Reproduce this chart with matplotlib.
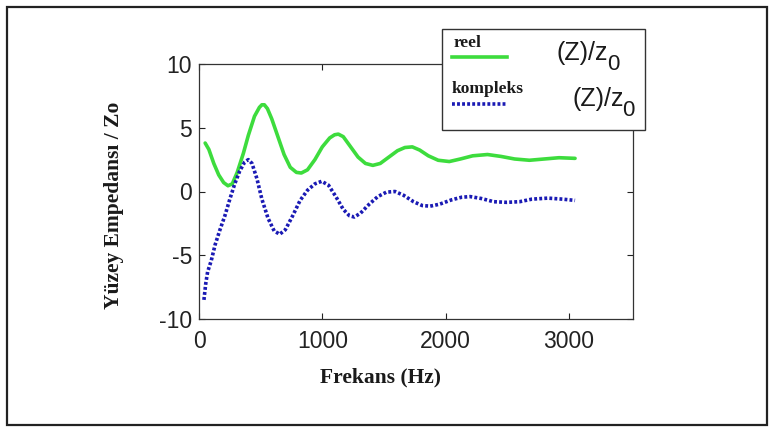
import matplotlib
matplotlib.use("Agg")
import matplotlib.pyplot as plt
from matplotlib.patches import Rectangle
from matplotlib.lines import Line2D

plt.rcParams["axes.unicode_minus"] = False

# ---- data ----
freq_reel = [50, 80, 120, 160, 200, 235, 270, 310, 360, 400, 450, 490, 510, 530, 555, 590,
             640, 690, 740, 790, 830, 880, 940, 1000, 1060, 1100, 1130, 1170, 1230, 1290,
             1350, 1410, 1470, 1540, 1610, 1670, 1730, 1790, 1860, 1940, 2030, 2120,
             2220, 2340, 2450, 2560, 2680, 2800, 2920, 3050]
reel = [3.8, 3.3, 2.2, 1.3, 0.7, 0.45, 0.6, 1.5, 3.0, 4.4, 5.9, 6.6, 6.8, 6.8, 6.5, 5.7,
        4.3, 2.9, 1.9, 1.5, 1.45, 1.7, 2.5, 3.5, 4.2, 4.45, 4.5, 4.3, 3.5, 2.7,
        2.2, 2.05, 2.2, 2.7, 3.2, 3.45, 3.5, 3.25, 2.8, 2.45, 2.35, 2.55,
        2.8, 2.9, 2.75, 2.55, 2.45, 2.55, 2.65, 2.6]

freq_komp = [40, 55, 70, 100, 130, 170, 210, 250, 290, 330, 370, 400, 430, 470, 510,
             560, 610, 655, 700, 760, 820, 880, 940, 995, 1050, 1110, 1170, 1220,
             1260, 1310, 1380, 1450, 1520, 1590, 1660, 1740, 1810, 1875, 1950, 2050,
             2130, 2200, 2290, 2390, 2495, 2600, 2700, 2830, 2950, 3050]
kompleks = [-8.5, -7.2, -6.3, -5.4, -4.2, -3.0, -1.9, -0.6, 0.6, 1.6, 2.3, 2.5, 2.2, 1.0, -0.6,
            -2.1, -3.1, -3.35, -3.0, -1.9, -0.7, 0.1, 0.6, 0.8, 0.5, -0.4, -1.4, -1.9,
            -2.0, -1.7, -1.0, -0.4, -0.05, 0.0, -0.3, -0.8, -1.1, -1.15, -1.0, -0.65,
            -0.45, -0.4, -0.55, -0.8, -0.85, -0.8, -0.6, -0.52, -0.6, -0.7]

xticks = [0, 1000, 2000, 3000]
yticks = [-10, -5, 0, 5, 10]

green = "#3ddc3d"
blue = "#1a1ab4"

W, H = 774, 432
fig = plt.figure(figsize=(W / 100, H / 100), dpi=100)
fig.patch.set_facecolor("white")

ax = fig.add_axes([199 / W, 1 - 319 / H, (633 - 199) / W, (319 - 64) / H])
ax.plot(freq_reel, reel, color=green, lw=2.6, solid_capstyle="round",
        solid_joinstyle="round")
ax.plot(freq_komp, kompleks, color=blue, lw=2.6, linestyle=(0, (0.8, 0.6)))
ax.set_xlim(0, 3520)
ax.set_ylim(-10, 10)
ax.set_xticks(xticks)
ax.set_yticks(yticks)
ax.tick_params(direction="in", top=True, right=True, length=4, width=0.8,
               labelsize=16.5, pad=5, colors="#222222")
ax.tick_params(axis="x", pad=8)
for lab in ax.get_xticklabels() + ax.get_yticklabels():
    lab.set_family("Liberation Sans")
for s in ax.spines.values():
    s.set_linewidth(0.9)
    s.set_color("#333333")

ax.set_xlabel("Frekans (Hz)", family="Liberation Serif", fontweight="bold",
              fontsize=15.5, color="#1a1a1a")
ax.set_ylabel("Yüzey Empedansı / Zo", family="Liberation Serif", fontweight="bold",
              fontsize=15.5, color="#1a1a1a")
ax.xaxis.set_label_coords((381 - 199) / 434, (319 - 367) / 255)
ax.yaxis.set_label_coords((124 - 199) / 434, (319 - 205) / 255)

# ---- custom legend box (figure pixel coords) ----
def fx(px):
    return px / W

def fy(py):
    return 1 - py / H

fig.patches.append(Rectangle((fx(442), fy(130)), fx(645) - fx(442), fy(29) - fy(130),
                             transform=fig.transFigure, facecolor="white",
                             edgecolor="#333333", lw=1.0, zorder=5))
fig.lines.append(Line2D([fx(452), fx(507)], [fy(57), fy(57)], transform=fig.transFigure,
                        color=green, lw=2.6, zorder=6))
fig.lines.append(Line2D([fx(452), fx(506)], [fy(104), fy(104)], transform=fig.transFigure,
                        color=blue, lw=2.6, linestyle=(0, (0.8, 0.6)), zorder=6))
fig.text(fx(454), fy(43), "reel", family="Liberation Serif", fontweight="bold",
         fontsize=12.5, color="#1a1a1a", va="center", ha="left", zorder=7)
fig.text(fx(452), fy(89), "kompleks", family="Liberation Serif", fontweight="bold",
         fontsize=12.5, color="#1a1a1a", va="center", ha="left", zorder=7)
for x0, y0 in [(557, 53), (572, 99)]:
    fig.text(fx(x0), fy(y0), "(Z)/z", family="Liberation Sans",
             fontsize=18, color="#1a1a1a", va="center", ha="left", zorder=7)
    fig.text(fx(x0 + 50), fy(y0 + 12), "0", family="Liberation Sans",
             fontsize=16, color="#1a1a1a", va="center", ha="left", zorder=7)

# ---- outer frame ----
fig.patches.append(Rectangle((fx(7), fy(425)), fx(767) - fx(7), fy(7) - fy(425),
                             transform=fig.transFigure, facecolor="none",
                             edgecolor="#222222", lw=1.6, zorder=8))

fig.savefig("out.png", dpi=100)
